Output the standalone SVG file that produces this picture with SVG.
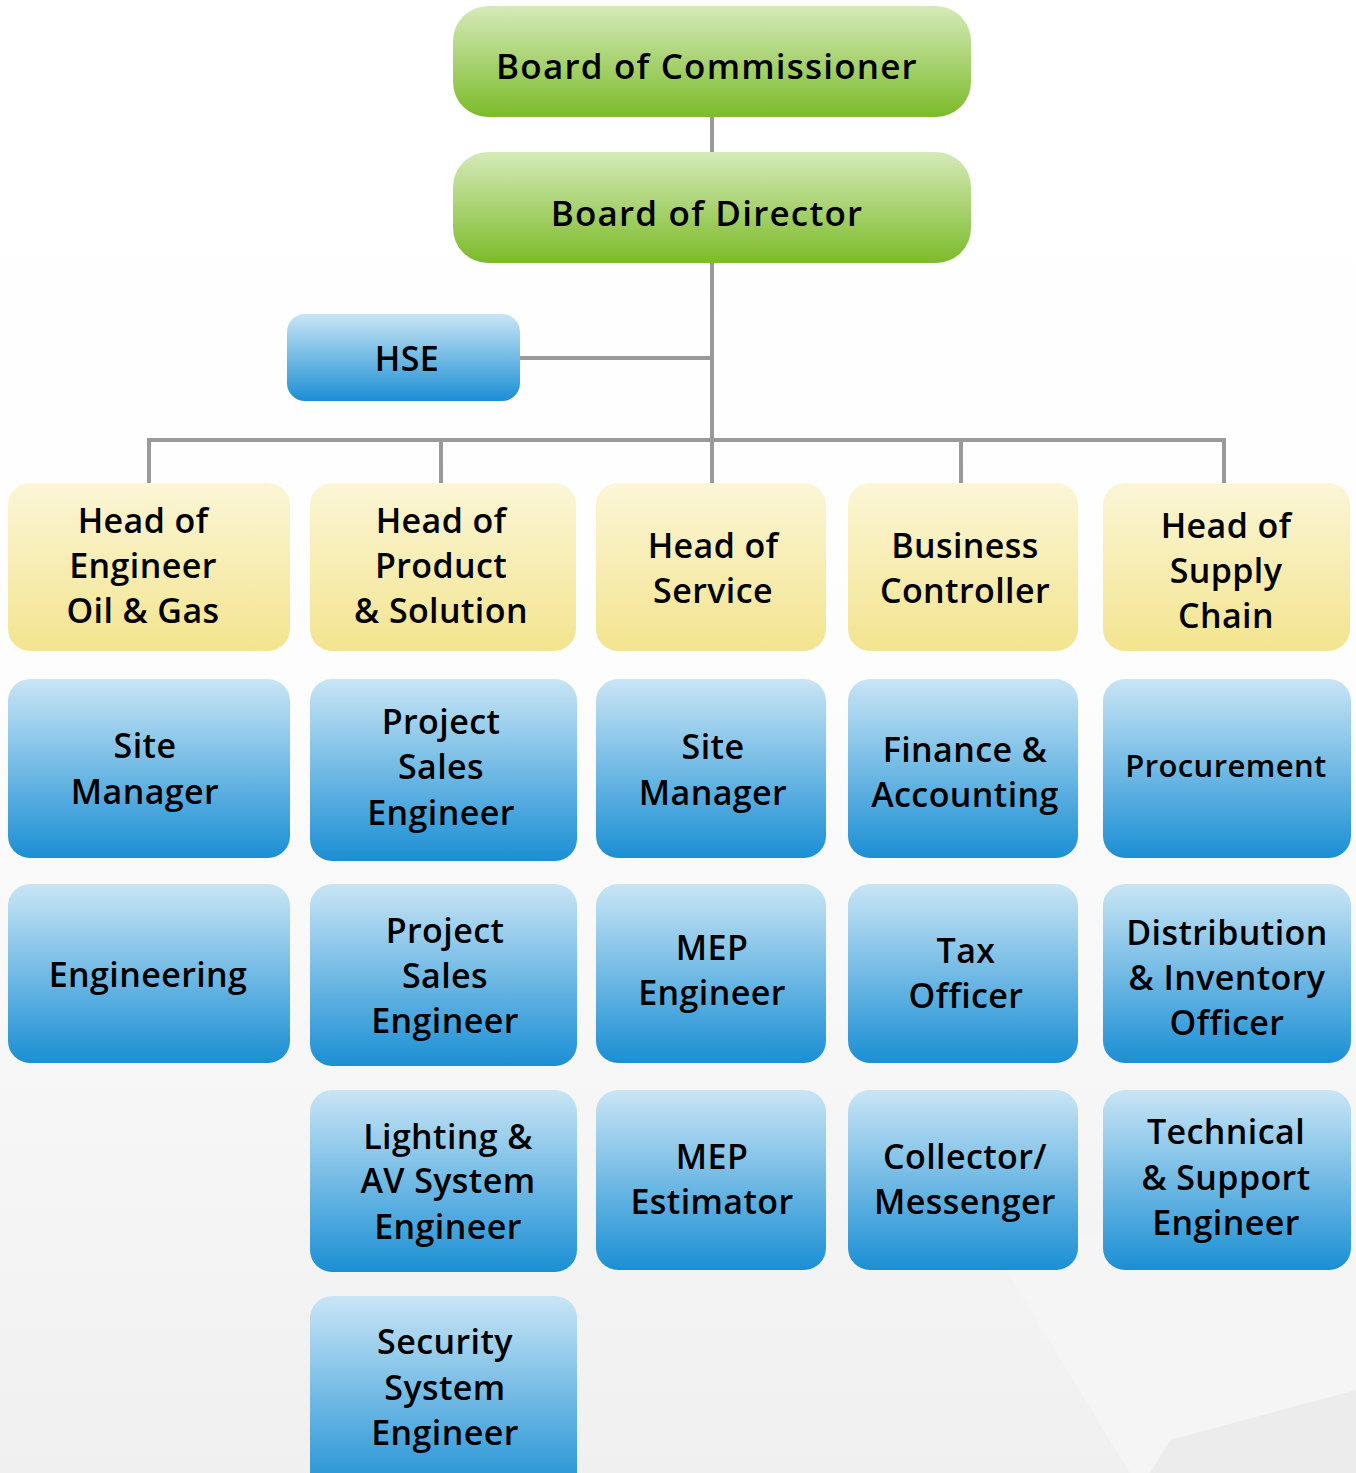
<svg xmlns="http://www.w3.org/2000/svg" width="1356" height="1473" viewBox="0 0 1356 1473">
<defs>
<linearGradient id="bg" x1="0" y1="0" x2="0" y2="1">
<stop offset="0" stop-color="#ffffff"/><stop offset="0.45" stop-color="#fdfdfd"/><stop offset="1" stop-color="#f0f0f0"/>
</linearGradient>
<linearGradient id="gGreen" x1="0" y1="0" x2="0" y2="1">
<stop offset="0" stop-color="#d5eab9"/><stop offset="1" stop-color="#7cbb29"/>
</linearGradient>
<linearGradient id="gYellow" x1="0" y1="0" x2="0" y2="1">
<stop offset="0" stop-color="#fbf6d6"/><stop offset="1" stop-color="#f3e48f"/>
</linearGradient>
<linearGradient id="gBlue" x1="0" y1="0" x2="0" y2="1">
<stop offset="0" stop-color="#c9e5f5"/><stop offset="1" stop-color="#1b8fd4"/>
</linearGradient>
</defs>
<style>
.t{font-family:"Open Sans","Noto Sans",sans-serif;font-weight:600;font-size:34px;fill:#000;text-anchor:middle;letter-spacing:0.4px}
.big{font-size:35px;letter-spacing:1.2px}
.green{fill:url(#gGreen)}
.yellow{fill:url(#gYellow)}
.blue{fill:url(#gBlue)}
.conn{stroke:#9a9a9a;stroke-width:4;fill:none}
</style>
<rect x="0" y="0" width="1356" height="1473" fill="url(#bg)"/>
<polygon points="1000,1260 1356,1160 1356,1473 1130,1473" fill="#f5f5f5"/>
<polygon points="1170,1440 1356,1390 1356,1473 1150,1473" fill="#ececec"/>
<g id="connectors">
<line class="conn" x1="712" y1="117" x2="712" y2="152"/>
<line class="conn" x1="712" y1="263" x2="712" y2="483"/>
<line class="conn" x1="520" y1="358" x2="712" y2="358"/>
<line class="conn" x1="149" y1="440" x2="1224" y2="440"/>
<line class="conn" x1="149" y1="438" x2="149" y2="483"/>
<line class="conn" x1="441" y1="438" x2="441" y2="483"/>
<line class="conn" x1="961" y1="438" x2="961" y2="483"/>
<line class="conn" x1="1224" y1="438" x2="1224" y2="483"/>
</g>
<g id="board-commissioner"><rect class="green" x="453" y="6" width="518" height="111" rx="35"/><text class="t big" x="707" y="79">Board of Commissioner</text></g>
<g id="board-director"><rect class="green" x="453" y="152" width="518" height="111" rx="35"/><text class="t big" x="707" y="226">Board of Director</text></g>
<g id="hse"><rect class="blue" x="287" y="314" width="233" height="87" rx="18"/><text class="t" x="407" y="371">HSE</text></g>

<g id="head-engineer"><rect class="yellow" x="8" y="483" width="282" height="168" rx="22"/><text class="t" x="143" y="533">Head of</text><text class="t" x="143" y="578">Engineer</text><text class="t" x="143" y="623">Oil &amp; Gas</text></g>
<g id="head-product"><rect class="yellow" x="310" y="483" width="266" height="168" rx="22"/><text class="t" x="441" y="533">Head of</text><text class="t" x="441" y="578">Product</text><text class="t" x="441" y="623">&amp; Solution</text></g>
<g id="head-service"><rect class="yellow" x="596" y="483" width="230" height="168" rx="22"/><text class="t" x="713" y="558">Head of</text><text class="t" x="713" y="603">Service</text></g>
<g id="business-controller"><rect class="yellow" x="848" y="483" width="230" height="168" rx="22"/><text class="t" x="965" y="558">Business</text><text class="t" x="965" y="603">Controller</text></g>
<g id="head-supply"><rect class="yellow" x="1103" y="483" width="247" height="168" rx="22"/><text class="t" x="1226" y="538">Head of</text><text class="t" x="1226" y="583">Supply</text><text class="t" x="1226" y="628">Chain</text></g>

<g id="site-manager-1"><rect class="blue" x="8" y="679" width="282" height="179" rx="22"/><text class="t" x="145" y="758">Site</text><text class="t" x="145" y="804">Manager</text></g>
<g id="project-sales-1"><rect class="blue" x="310" y="679" width="267" height="182" rx="22"/><text class="t" x="441" y="734">Project</text><text class="t" x="441" y="779">Sales</text><text class="t" x="441" y="825">Engineer</text></g>
<g id="site-manager-2"><rect class="blue" x="596" y="679" width="230" height="179" rx="22"/><text class="t" x="713" y="759">Site</text><text class="t" x="713" y="805">Manager</text></g>
<g id="finance"><rect class="blue" x="848" y="679" width="230" height="179" rx="22"/><text class="t" x="965" y="762">Finance &amp;</text><text class="t" x="965" y="807">Accounting</text></g>
<g id="procurement"><rect class="blue" x="1103" y="679" width="248" height="179" rx="22"/><text class="t" x="1226" y="777" style="font-size:31px">Procurement</text></g>

<g id="engineering"><rect class="blue" x="8" y="884" width="282" height="179" rx="22"/><text class="t" x="148" y="987">Engineering</text></g>
<g id="project-sales-2"><rect class="blue" x="310" y="884" width="267" height="182" rx="22"/><text class="t" x="445" y="943">Project</text><text class="t" x="445" y="988">Sales</text><text class="t" x="445" y="1033">Engineer</text></g>
<g id="mep-engineer"><rect class="blue" x="596" y="884" width="230" height="179" rx="22"/><text class="t" x="712" y="960">MEP</text><text class="t" x="712" y="1005">Engineer</text></g>
<g id="tax-officer"><rect class="blue" x="848" y="884" width="230" height="179" rx="22"/><text class="t" x="966" y="963">Tax</text><text class="t" x="966" y="1008">Officer</text></g>
<g id="distribution"><rect class="blue" x="1103" y="884" width="248" height="179" rx="22"/><text class="t" x="1227" y="945">Distribution</text><text class="t" x="1227" y="990">&amp; Inventory</text><text class="t" x="1227" y="1035">Officer</text></g>

<g id="lighting-av"><rect class="blue" x="310" y="1090" width="267" height="182" rx="22"/><text class="t" x="448" y="1149">Lighting &amp;</text><text class="t" x="448" y="1193">AV System</text><text class="t" x="448" y="1239">Engineer</text></g>
<g id="mep-estimator"><rect class="blue" x="596" y="1090" width="230" height="180" rx="22"/><text class="t" x="712" y="1169">MEP</text><text class="t" x="712" y="1214">Estimator</text></g>
<g id="collector"><rect class="blue" x="848" y="1090" width="230" height="180" rx="22"/><text class="t" x="965" y="1169">Collector/</text><text class="t" x="965" y="1214">Messenger</text></g>
<g id="technical-support"><rect class="blue" x="1103" y="1090" width="248" height="180" rx="22"/><text class="t" x="1226" y="1144">Technical</text><text class="t" x="1226" y="1190">&amp; Support</text><text class="t" x="1226" y="1235">Engineer</text></g>

<g id="security-system"><rect class="blue" x="310" y="1296" width="267" height="200" rx="22"/><text class="t" x="445" y="1354">Security</text><text class="t" x="445" y="1400">System</text><text class="t" x="445" y="1445">Engineer</text></g>
</svg>
